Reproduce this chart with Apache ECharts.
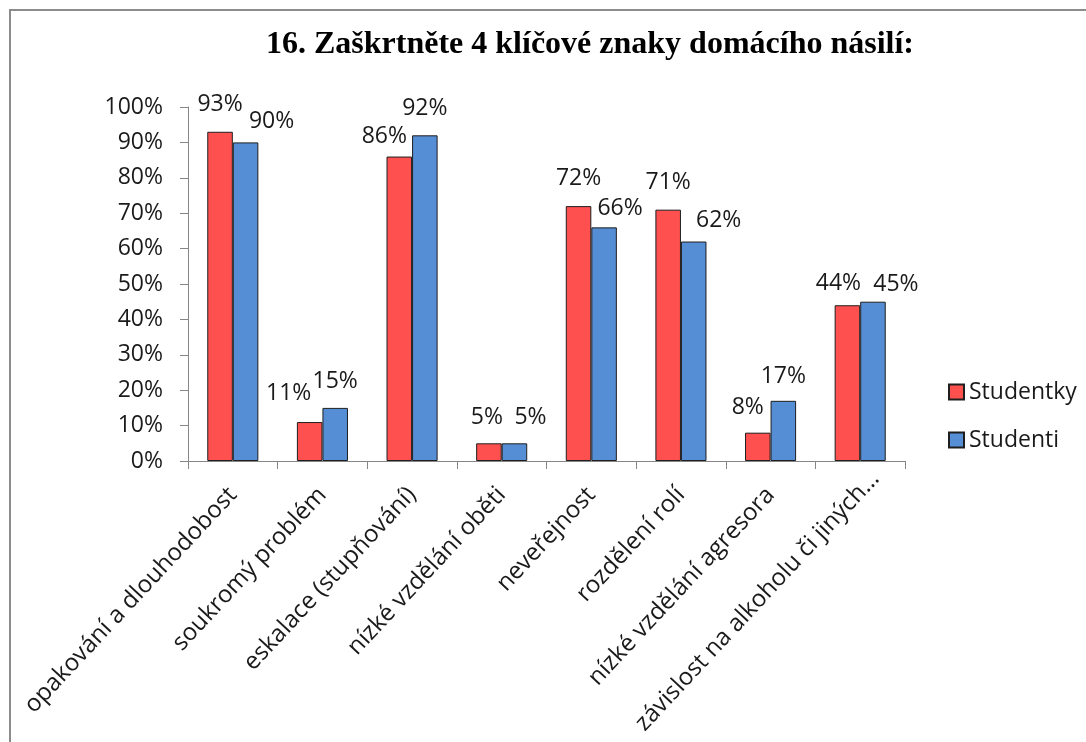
<!DOCTYPE html>
<html>
<head>
<meta charset="utf-8">
<script src="https://cdn.jsdelivr.net/npm/echarts@6/dist/echarts.min.js"></script>
<style>
  html, body { margin: 0; padding: 0; background: #fff; }
  #main { width: 1086px; height: 742px; }
</style>
</head>
<body>
<div id="main"></div>
<script>
// kategorie a hodnoty (v %)
var categories = [
	'opakování a dlouhodobost',
	'soukromý problém',
	'eskalace (stupňování)',
	'nízké vzdělání oběti',
	'neveřejnost',
	'rozdělení rolí',
	'nízké vzdělání agresora',
	'závislost na alkoholu či jiných…'
];
var studentky = [93, 11, 86, 5, 72, 71, 8, 44];
var studenti = [90, 15, 92, 5, 66, 62, 17, 45];
var yTicks = [0, 10, 20, 30, 40, 50, 60, 70, 80, 90, 100];

// posuny popisků (ručně posunuté jako v Excelu)
var nudgeStudentky = [[0, -3], [-21, -4], [-15, 4], [-2, -1], [0, -3], [0, -3], [-10, -1], [-9, 3]];
var nudgeStudenti = [[26, 4], [0, -2], [0, -2], [16, -1], [16, 6], [25, 3], [0, 0], [23, 7]];

var FONT = '"Open Sans", "Noto Sans", sans-serif';
var TXT = '#1a1a1a';

function withLabels(values, nudges) {
	return values.map(function (v, i) {
		return { value: v, label: { offset: nudges[i] } };
	});
}

// poslední popisek je v Excelu posunutý o kus výš
var catData = categories.map(function (c, i) {
	if (i === categories.length - 1) {
		return { value: c, textStyle: { padding: [0, -22, 0, 0] } };
	}
	return c;
});

var chart = echarts.init(document.getElementById('main'));
var option = {
	animation: false,
	backgroundColor: '#fff',
	title: {
		text: '16. Zaškrtněte 4 klíčové znaky domácího násilí:',
		left: 590,
		top: 29,
		padding: 0,
		textAlign: 'center',
		textStyle: {
			fontFamily: '"Liberation Serif", "DejaVu Serif", serif',
			fontWeight: 'bold',
			fontSize: 32,
			color: '#000'
		}
	},
	graphic: [{
		type: 'rect',
		z: -1,
		shape: { x: 10, y: 10, width: 1200, height: 900 },
		style: { fill: 'none', stroke: '#8c8c8c', lineWidth: 2 }
	}],
	legend: {
		orient: 'vertical',
		left: 943,
		top: 375,
		itemWidth: 15,
		itemHeight: 15,
		itemGap: 24,
		icon: 'rect',
		textStyle: { fontFamily: FONT, fontSize: 23, color: TXT, lineHeight: 24 },
		data: ['Studentky', 'Studenti']
	},
	grid: {
		left: 188,
		right: 181,
		top: 107,
		bottom: 281,
		containLabel: false,
		outerBoundsMode: 'none'
	},
	xAxis: {
		type: 'category',
		data: catData,
		axisLine: { lineStyle: { color: '#868686', width: 1 } },
		axisTick: { show: true, length: 8, lineStyle: { color: '#868686' } },
		axisLabel: {
			rotate: 47,
			interval: 0,
			margin: 30,
			fontFamily: FONT,
			fontSize: 24,
			color: TXT
		}
	},
	yAxis: {
		type: 'value',
		min: yTicks[0],
		max: yTicks[yTicks.length - 1],
		interval: 10,
		axisLine: { show: true, lineStyle: { color: '#868686', width: 1 } },
		axisTick: { show: true, length: 8, lineStyle: { color: '#868686' } },
		splitLine: { show: false },
		axisLabel: {
			margin: 25,
			formatter: '{value}%',
			fontFamily: FONT,
			fontSize: 23,
			color: TXT
		}
	},
	series: [{
		name: 'Studentky',
		type: 'bar',
		barGap: '0%',
		barCategoryGap: '43%',
		itemStyle: { color: '#FF5050', borderColor: '#1e1e1e', borderWidth: 1 },
		label: {
			show: true,
			position: 'top',
			distance: 13,
			formatter: '{c}%',
			fontFamily: FONT,
			fontSize: 23,
			color: TXT
		},
		data: withLabels(studentky, nudgeStudentky)
	}, {
		name: 'Studenti',
		type: 'bar',
		barGap: '0%',
		barCategoryGap: '43%',
		itemStyle: { color: '#558ED5', borderColor: '#1e1e1e', borderWidth: 1 },
		label: {
			show: true,
			position: 'top',
			distance: 13,
			formatter: '{c}%',
			fontFamily: FONT,
			fontSize: 23,
			color: TXT
		},
		data: withLabels(studenti, nudgeStudenti)
	}]
};
chart.setOption(option);
</script>
</body>
</html>
